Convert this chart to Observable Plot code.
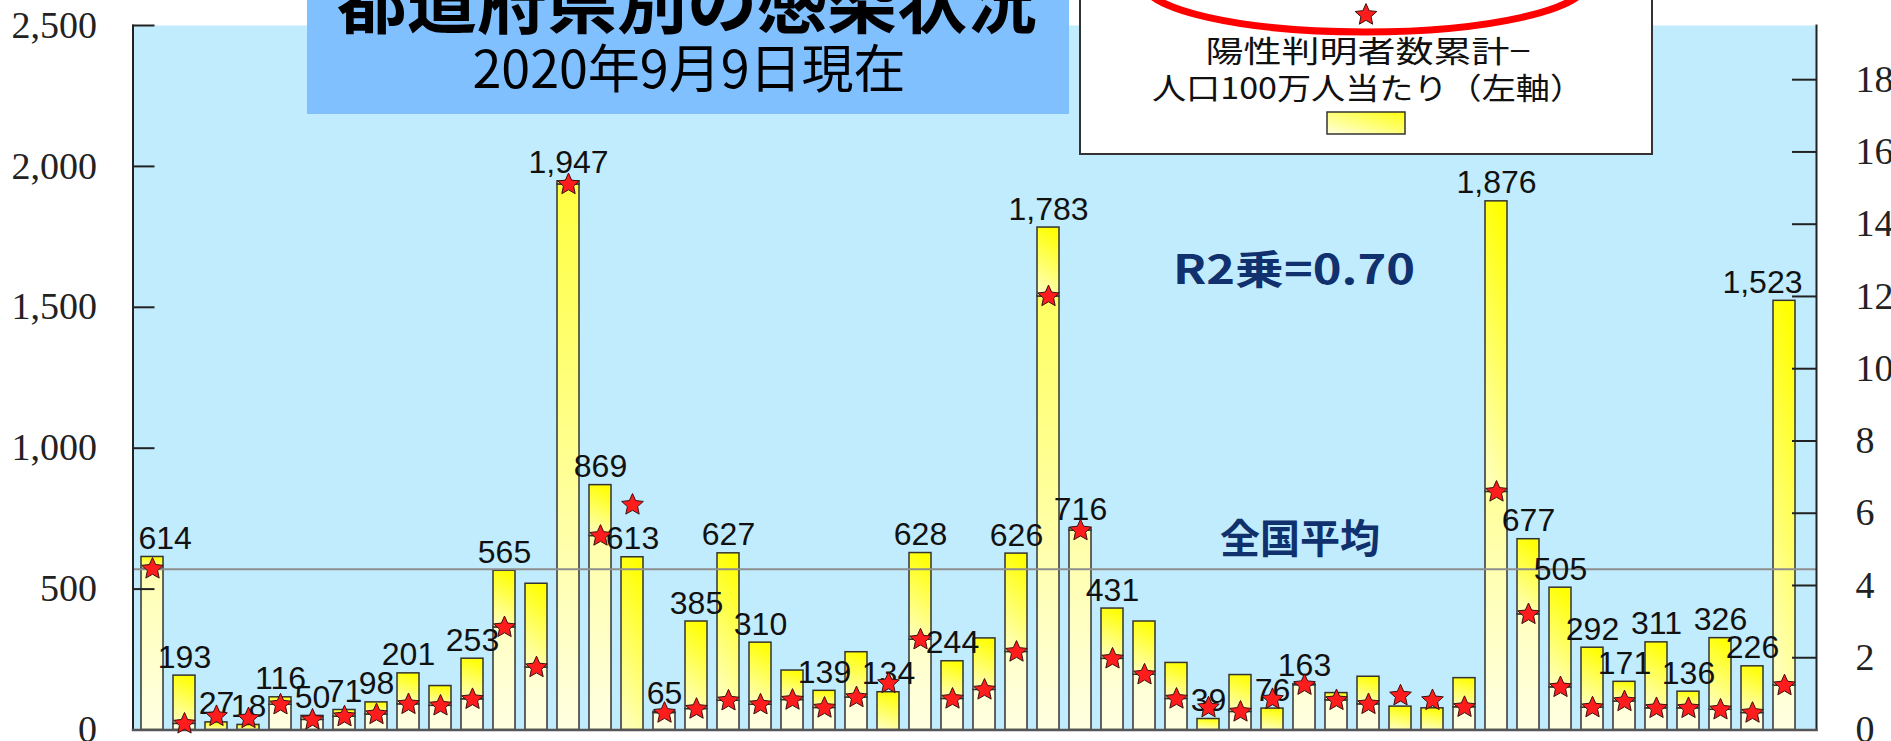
<!DOCTYPE html>
<html>
<head>
<meta charset="utf-8">
<script src="https://cdn.jsdelivr.net/npm/d3@7"></script>
<script src="https://cdn.jsdelivr.net/npm/@observablehq/plot@0.6"></script>
<style>
  html, body { margin: 0; padding: 0; background: #ffffff; }
  #chart { width: 1891px; height: 741px; overflow: hidden; }
</style>
</head>
<body>
<div id="chart"></div>
<script>
// Category order along the x axis (one bar each)
const categories = d3.range(1, 53).map(String);

// Cumulative positives per million people (left axis)
const perMillion = [
  614, 193, 27, 18, 116, 50, 71, 98, 201, 156,
  253, 565, 519, 1947, 869, 613, 65, 385, 627, 310,
  211, 139, 276, 134, 628, 244, 325, 626, 1783, 716,
  431, 385, 238, 39, 195, 76, 163, 131, 189, 83,
  77, 184, 1876, 677, 505, 292, 171, 311, 136, 326,
  226, 1523
];

// Star series (right axis)
const starValues = [
  4.46, 0.17, 0.38, 0.32, 0.70, 0.28, 0.37, 0.43, 0.71, 0.67,
  0.85, 2.84, 1.73, 15.1, 5.37, 6.23, 0.47, 0.58, 0.81, 0.70,
  0.83, 0.61, 0.90, 1.29, 2.50, 0.86, 1.11, 2.16, 12.0, 5.52,
  1.97, 1.53, 0.86, 0.62, 0.50, 0.85, 1.24, 0.82, 0.71, 0.95,
  0.82, 0.63, 6.59, 3.20, 1.18, 0.62, 0.79, 0.60, 0.60, 0.56,
  0.47, 1.23
];

// Bars whose value label is not printed (1-based positions)
const unlabelled = [10, 13, 21, 23, 27, 32, 33, 35, 38, 39, 40, 41, 42];

const nationalAverage = 570;
const leftTicks = [0, 500, 1000, 1500, 2000, 2500];
const rightTicks = [0, 2, 4, 6, 8, 10, 12, 14, 16, 18];
const leftMax = 2500;
const rightMax = 19.5;

const titleText = "都道府県別の感染状況";
const subtitleText = "2020年9月9日現在";
const legendLine1 = "陽性判明者数累計−";
const legendLine2 = "人口100万人当たり（左軸）";
const r2Text = "R2乗=0.70";
const averageText = "全国平均";

// ---- layout ----
const W = 1891, H = 741;
const mL = 132.5, mR = 75, mT = 25, mB = 11.5;
const plotW = W - mL - mR;
const K = leftMax / rightMax; // right-axis unit expressed in left-axis units

const jp = "'Noto Sans CJK JP', 'Noto Sans', sans-serif";
const serif = "'Liberation Serif', 'Times New Roman', serif";
const navy = "#10306e";

// five-pointed star with a slightly fuller body than d3.symbolStar
const fatStar = {
  draw(context, size) {
    const R = Math.sqrt(size * 0.8908);
    const r = R * 0.47;
    for (let i = 0; i < 10; ++i) {
      const a = -Math.PI / 2 + i * Math.PI / 5;
      const rad = i % 2 ? r : R;
      const px = rad * Math.cos(a), py = rad * Math.sin(a);
      if (i === 0) context.moveTo(px, py); else context.lineTo(px, py);
    }
    context.closePath();
  }
};
const starR = 6.8;

const rows = categories.map((c, i) => {
  const starLeft = starValues[i] * K;
  return {
    cat: c,
    value: perMillion[i],
    star: starValues[i],
    split: starLeft < perMillion[i] ? starLeft : 0,
    label: d3.format(",")(perMillion[i]),
    show: !unlabelled.includes(i + 1)
  };
});
const lower = rows.filter(d => d.split > 0);
const labelled = rows.filter(d => d.show);
const firstLabel = labelled.filter(d => d.cat === categories[0]);
const lastLabel = labelled.filter(d => d.cat === categories[categories.length - 1]);
const midLabels = labelled.filter(d => d !== firstLabel[0] && d !== lastLabel[0]);

const labelStyle = {
  x: "cat", y: "value", text: "label",
  fontSize: 32, fontFamily: "'Liberation Sans', Arial, sans-serif",
  fill: "#111", lineAnchor: "bottom", dy: -8
};

const plot = Plot.plot({
  width: W, height: H,
  marginLeft: mL, marginRight: mR, marginTop: mT, marginBottom: mB,
  style: { background: "#ffffff", overflow: "hidden" },
  x: { domain: categories, axis: null, paddingInner: 0.31, paddingOuter: 0.138, align: 0.29 },
  y: { domain: [0, leftMax] },
  marks: [
    Plot.frame({ fill: "#c1ecfd", stroke: null }),
    Plot.barY(lower, { x: "cat", y1: 0, y2: "split", fill: "url(#segLow)", stroke: "#333", strokeWidth: 1.5 }),
    Plot.barY(rows, { x: "cat", y1: "split", y2: "value", fill: "url(#segHigh)", stroke: "#333", strokeWidth: 1.5 }),
    Plot.ruleY([nationalAverage], { stroke: "#8e8e8e", strokeWidth: 2 }),
    Plot.tickY(leftTicks, { y: d => d, stroke: "#222", strokeWidth: 2, insetRight: plotW - 22 }),
    Plot.tickY(rightTicks, { y: d => d * K, stroke: "#222", strokeWidth: 2, insetLeft: plotW - 24 }),
    Plot.frame({ anchor: "left", stroke: "#222", strokeWidth: 2 }),
    Plot.frame({ anchor: "right", stroke: "#222", strokeWidth: 2 }),
    Plot.frame({ anchor: "bottom", stroke: "#555", strokeWidth: 2.5 }),
    Plot.text(midLabels, labelStyle),
    Plot.text(firstLabel, { ...labelStyle, textAnchor: "start", dx: -14 }),
    Plot.text(lastLabel, { ...labelStyle, textAnchor: "end", dx: 18 }),
    Plot.dot(rows, { x: "cat", y: d => d.star * K, symbol: fatStar, r: starR, fill: "#ff1c1c", stroke: "#3a1010", strokeWidth: 1 }),
    Plot.axisY(leftTicks, {
      anchor: "left", tickSize: 0, tickPadding: 36, tickFormat: d3.format(","),
      fontSize: 38, fontFamily: serif, fill: "#222"
    }),
    Plot.axisY(rightTicks.map(v => v * K), {
      anchor: "right", tickSize: 0, tickPadding: 39, tickFormat: d => String(Math.round(d / K)),
      fontSize: 38, fontFamily: serif, fill: "#222"
    })
  ]
});

const svg = d3.select(plot);

// gradients used by the bar segments and the legend swatch
const defs = svg.insert("defs", ":first-child");
const gHigh = defs.append("linearGradient").attr("id", "segHigh")
  .attr("x1", 0.6).attr("y1", 0).attr("x2", 0.4).attr("y2", 1);
gHigh.append("stop").attr("offset", 0).attr("stop-color", "#ffff00");
gHigh.append("stop").attr("offset", 1).attr("stop-color", "#ffffb8");
const gLow = defs.append("linearGradient").attr("id", "segLow")
  .attr("gradientUnits", "userSpaceOnUse")
  .attr("x1", 0).attr("y1", mT).attr("x2", 0).attr("y2", H - mB);
gLow.append("stop").attr("offset", 0).attr("stop-color", "#ffff10");
gLow.append("stop").attr("offset", 1).attr("stop-color", "#ffffe2");
const gSw = defs.append("linearGradient").attr("id", "swatch")
  .attr("x1", 0).attr("y1", 1).attr("x2", 1).attr("y2", 0);
gSw.append("stop").attr("offset", 0).attr("stop-color", "#ffffe0");
gSw.append("stop").attr("offset", 1).attr("stop-color", "#ffff10");

// title panel
const ann = svg.append("g").attr("font-family", jp);
ann.append("rect").attr("x", 307).attr("y", -2).attr("width", 762).attr("height", 116).attr("fill", "#80c0ff");
ann.append("text").attr("x", 687).attr("y", 28).attr("text-anchor", "middle")
  .attr("font-size", 70).attr("font-weight", 700).attr("fill", "#000").text(titleText);
ann.append("text").attr("x", 689).attr("y", 88).attr("text-anchor", "middle")
  .attr("font-size", 52).attr("fill", "#000").text(subtitleText);

// legend panel
ann.append("rect").attr("x", 1080).attr("y", -4).attr("width", 572).attr("height", 158)
  .attr("fill", "#ffffff").attr("stroke", "#333").attr("stroke-width", 2);
ann.append("ellipse").attr("cx", 1365).attr("cy", -18).attr("rx", 222).attr("ry", 50)
  .attr("fill", "none").attr("stroke", "#ff0000").attr("stroke-width", 7);
ann.append("path").attr("transform", "translate(1366,15)")
  .attr("d", d3.symbol(fatStar, Math.PI * starR * starR)())
  .attr("fill", "#ff1c1c").attr("stroke", "#3a1010").attr("stroke-width", 1);
ann.append("text").attr("x", 1368).attr("y", 62).attr("text-anchor", "middle")
  .attr("font-size", 30).attr("textLength", 325).attr("lengthAdjust", "spacingAndGlyphs")
  .attr("fill", "#111").text(legendLine1);
ann.append("text").attr("x", 1368).attr("y", 99).attr("text-anchor", "middle")
  .attr("font-size", 30).attr("textLength", 432).attr("lengthAdjust", "spacingAndGlyphs")
  .attr("fill", "#111").text(legendLine2);
ann.append("rect").attr("x", 1327).attr("y", 112).attr("width", 78).attr("height", 22)
  .attr("fill", "url(#swatch)").attr("stroke", "#333").attr("stroke-width", 1.5);

// annotations inside the plot
ann.append("text").attr("x", 1294).attr("y", 284).attr("text-anchor", "middle")
  .attr("font-size", 40).attr("font-weight", 700).attr("fill", navy)
  .attr("textLength", 242).attr("lengthAdjust", "spacingAndGlyphs").text(r2Text);
ann.append("text").attr("x", 1300).attr("y", 553).attr("text-anchor", "middle")
  .attr("font-size", 40).attr("font-weight", 700).attr("fill", navy).text(averageText);

document.getElementById("chart").appendChild(plot);
</script>
</body>
</html>
